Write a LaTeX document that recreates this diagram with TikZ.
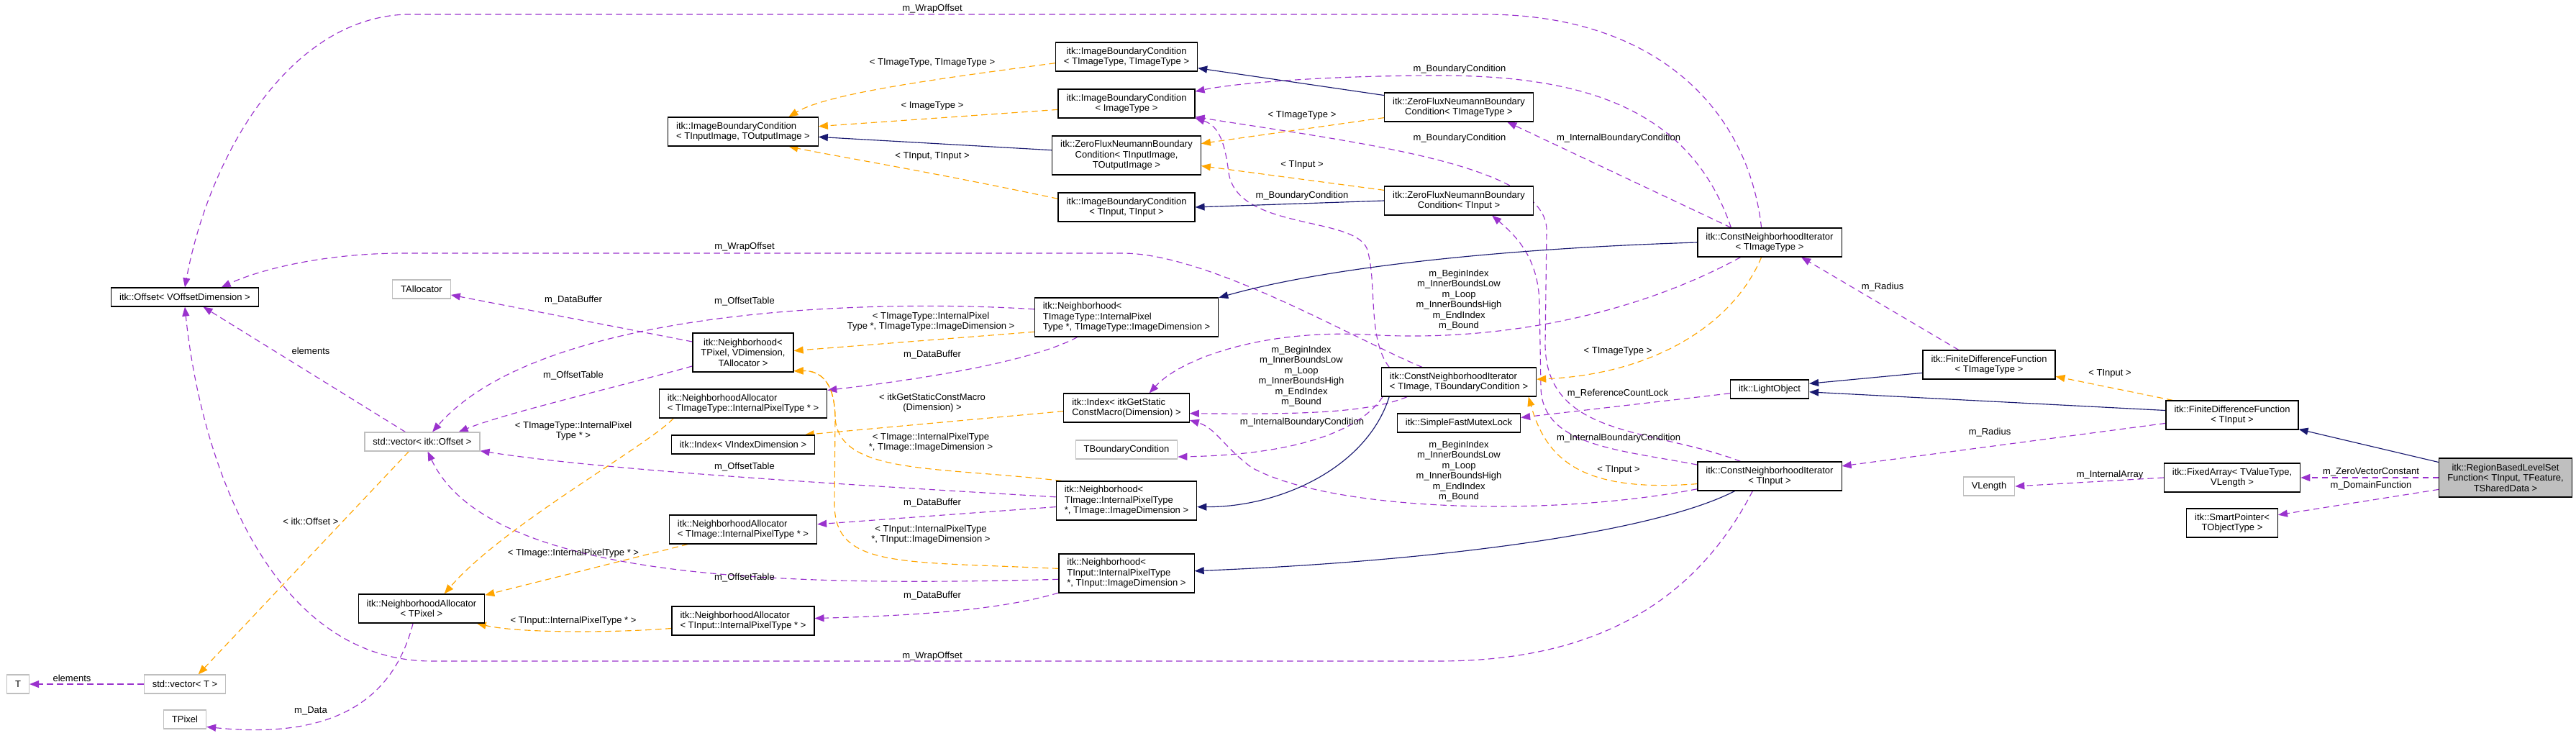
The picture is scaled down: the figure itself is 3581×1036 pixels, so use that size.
\documentclass[tikz,border=0pt]{standalone}
\usepackage{fontspec}
\setmainfont{Liberation Sans}
\usetikzlibrary{arrows.meta}
\definecolor{usecol}{HTML}{9A32CD}
\definecolor{tmplcol}{HTML}{FFA500}
\definecolor{inhcol}{HTML}{191970}
\definecolor{undoc}{HTML}{BFBFBF}
\pgfdeclarelayer{bg}
\pgfsetlayers{bg,main}
\newcommand{\idxlist}{m\_BeginIndex\\m\_InnerBoundsLow\\m\_Loop\\m\_InnerBoundsHigh\\m\_EndIndex\\m\_Bound}
\begin{document}
\begin{tikzpicture}[
x=0.2mm,y=-0.2mm,
every node/.style={font=\fontsize{7.4}{8.2}\selectfont,inner sep=0pt},
cls/.style={draw=black,fill=white,line width=0.65pt,inner xsep=2.3mm,inner ysep=0.8mm,minimum height=5.2mm,align=center},
ext/.style={cls,draw=undoc},
two/.style={minimum height=8mm},
three/.style={minimum height=10.8mm},
lbl/.style={align=center},
use/.style={draw=usecol,line width=0.65pt,dash pattern=on 1.7mm off 1.1mm,-{Triangle[length=2.6mm,width=2mm]}},
tmpl/.style={use,draw=tmplcol},
inh/.style={draw=inhcol,line width=0.65pt,-{Triangle[length=2.6mm,width=2mm]}}
]
\useasboundingbox (0,0) rectangle (3581,1036);

% classes, left column
\node[cls] (offset) at (257,413) {itk::Offset< VOffsetDimension >};
\node[ext] (talloc) at (586,402) {TAllocator};
\node[ext] (vecoff) at (587,614) {std::vector< itk::Offset >};
\node[cls,two] (nalpix) at (586,846) {itk::NeighborhoodAllocator\\< TPixel >};
\node[ext] (vect) at (257,951) {std::vector< T >};
\node[ext] (tt) at (25,951) {T};
\node[ext] (tpixel) at (257,1000) {TPixel};

\node[cls,two,align=left] (ibcio) at (1033,183) {itk::ImageBoundaryCondition\\< TInputImage, TOutputImage >};
\node[cls,three] (nbpix) at (1033,490) {itk::Neighborhood<\\TPixel, VDimension,\\TAllocator >};
\node[cls,two,align=left] (nalimgtype) at (1033,561) {itk::NeighborhoodAllocator\\< TImageType::InternalPixelType * >};
\node[cls] (idxv) at (1033,618) {itk::Index< VIndexDimension >};
\node[cls,two,align=left] (nalimg) at (1033,736) {itk::NeighborhoodAllocator\\< TImage::InternalPixelType * >};
\node[cls,two,align=left] (nalin) at (1033,863) {itk::NeighborhoodAllocator\\< TInput::InternalPixelType * >};

% middle column
\node[cls,two] (ibctt) at (1566,79) {itk::ImageBoundaryCondition\\< TImageType, TImageType >};
\node[cls,two] (ibcimg) at (1566,144) {itk::ImageBoundaryCondition\\< ImageType >};
\node[cls,three] (zfio) at (1566,216) {itk::ZeroFluxNeumannBoundary\\Condition< TInputImage,\\TOutputImage >};
\node[cls,two] (ibcin) at (1566,288) {itk::ImageBoundaryCondition\\< TInput, TInput >};
\node[cls,three,align=left] (nbimgtype) at (1566,441) {itk::Neighborhood<\\TImageType::InternalPixel\\Type *, TImageType::ImageDimension >};
\node[cls,two,align=left] (idxmac) at (1566,567) {itk::Index< itkGetStatic\\ConstMacro(Dimension) >};
\node[ext] (tbc) at (1566,625) {TBoundaryCondition};
\node[cls,three,align=left] (nbimg) at (1566,696) {itk::Neighborhood<\\TImage::InternalPixelType\\*, TImage::ImageDimension >};
\node[cls,three,align=left] (nbin) at (1566,797) {itk::Neighborhood<\\TInput::InternalPixelType\\*, TInput::ImageDimension >};

\node[cls,two] (zftt) at (2028,149) {itk::ZeroFluxNeumannBoundary\\Condition< TImageType >};
\node[cls,two] (zfin) at (2028,279) {itk::ZeroFluxNeumannBoundary\\Condition< TInput >};
\node[cls,two,align=left] (cnibc) at (2028,531) {itk::ConstNeighborhoodIterator\\< TImage, TBoundaryCondition >};
\node[cls] (mutex) at (2028,588) {itk::SimpleFastMutexLock};

% right part
\node[cls,two] (cnitt) at (2460,337) {itk::ConstNeighborhoodIterator\\< TImageType >};
\node[cls] (lightobj) at (2460,541) {itk::LightObject};
\node[cls,two] (cnin) at (2460,662) {itk::ConstNeighborhoodIterator\\< TInput >};
\node[cls,two] (fdftt) at (2765,507) {itk::FiniteDifferenceFunction\\< TImageType >};
\node[ext] (vlength) at (2765,676) {VLength};
\node[cls,two] (fdfin) at (3103,577) {itk::FiniteDifferenceFunction\\< TInput >};
\node[cls,two] (fixarr) at (3103,664) {itk::FixedArray< TValueType,\\VLength >};
\node[cls,two] (smartp) at (3103,727) {itk::SmartPointer<\\TObjectType >};
\node[cls,three,fill=undoc] (rblsf) at (3483,664) {itk::RegionBasedLevelSet\\Function< TInput, TFeature,\\TSharedData >};

\begin{pgfonlayer}{bg}
% usage
\draw[use] (cnitt.119) .. controls (2430,150) and (2300,20) .. (2064,20) -- (565,20) .. controls (400,25) and (290,220) .. (offset.north);
\draw[use] (cnibc.158) .. controls (1880,470) and (1680,352) .. (1560,352) -- (560,352) .. controls (450,352) and (360,375) .. (offset.15);
\draw[use] (cnin.-139) .. controls (2350,850) and (2200,919) .. (2000,919) -- (600,919) .. controls (380,919) and (280,650) .. (offset.south);
\draw[use] (vecoff.150) -- (offset.-28);
\draw[use] (nbpix.168) -- (talloc.-11);
\draw[use] (nbimgtype.175) .. controls (1200,415) and (750,430) .. (vecoff.44);
\draw[use] (nbpix.195) .. controls (850,540) and (700,575) .. (vecoff.15);
\draw[use] (nbimgtype.202) .. controls (1440,500) and (1300,525) .. (nalimgtype.9);
\draw[use] (nbimg.177) .. controls (1200,675) and (850,655) .. (vecoff.-9);
\draw[use] (nbimg.185) -- (nalimg.4);
\draw[use] (nbin.185) .. controls (1100,815) and (680,810) .. (vecoff.-61);
\draw[use] (nbin.196) .. controls (1400,845) and (1300,855) .. (nalin.2);
\draw[use] (vect) -- (tt);
\draw[use] (nalpix.-120) .. controls (550,960) and (480,1030) .. (tpixel.-19);
\draw[use] (cnitt.159) .. controls (2350,150) and (2200,105) .. (2000,105) .. controls (1850,105) and (1720,115) .. (ibcimg.10);
\draw[use] (cnitt.159) -- (zftt.-17);
\draw[use] (cnin.153) .. controls (2300,595) and (2150,610) .. (2148,480) -- (2150,320) .. controls (2150,230) and (1900,200) .. (ibcimg.-11);
\draw[use] (cnin.171) .. controls (2250,625) and (2145,620) .. (2142,540) -- (2140,420) .. controls (2138,360) and (2110,330) .. (zfin.-24);
\draw[use] (cnibc.168) .. controls (1900,470) and (1915,390) .. (1900,345) .. controls (1880,300) and (1720,320) .. (1708,240) .. controls (1703,200) and (1695,175) .. (ibcimg.-12);
\draw[use] (cnibc.191) .. controls (1890,600) and (1800,632) .. (tbc.-8);
\draw[use] (cnibc.196) .. controls (1900,575) and (1800,576) .. (idxmac.-5);
\draw[use] (cnitt.207) .. controls (2250,450) and (2050,475) .. (1900,465) .. controls (1750,458) and (1640,500) .. (idxmac.33);
\draw[use] (cnin.190) .. controls (2150,720) and (1850,710) .. (1740,650) .. controls (1700,620) and (1690,595) .. (idxmac.-11);
\draw[use] (lightobj.186) -- (mutex.5);
\draw[use] (fdftt.154) -- (cnitt.-25);
\draw[use] (fdfin.187) -- (cnin.8);
\draw[use] (rblsf.west) -- (fixarr.east);
\draw[use] (rblsf.190) -- (smartp.10);
\draw[use] (fixarr.west) -- (vlength.east);
% template instances
\draw[tmpl] (nbimgtype.189) -- (nbpix.2);
\draw[tmpl] (nbimg.163) .. controls (1300,648) and (1165,660) .. (1161,580) .. controls (1160,530) and (1140,515) .. (nbpix.-20);
\draw[tmpl] (nbin.176) .. controls (1250,780) and (1160,790) .. (1160,700) -- (1161,580) .. controls (1160,530) and (1140,515) .. (nbpix.-20);
\draw[tmpl] (nalimgtype.192) .. controls (900,620) and (700,730) .. (nalpix.33);
\draw[tmpl] (nalimg.195) -- (nalpix.12);
\draw[tmpl] (nalin.186) .. controls (850,880) and (720,880) .. (nalpix.-15);
\draw[tmpl] (idxmac.183) -- (idxv.9);
\draw[tmpl] (vecoff.216) -- (vect.36);
\draw[tmpl] (ibctt.185) .. controls (1300,110) and (1150,130) .. (ibcio.18);
\draw[tmpl] (ibcimg.185) -- (ibcio.4);
\draw[tmpl] (ibcin.173) .. controls (1300,240) and (1150,215) .. (ibcio.-18);
\draw[tmpl] (cnitt.-119) .. controls (2410,450) and (2300,520) .. (cnibc.2);
\draw[tmpl] (cnin.186) .. controls (2200,685) and (2150,640) .. (cnibc.-12);
\draw[tmpl] (fdfin.166) -- (fdftt.-10);
\draw[tmpl] (zftt.188) -- (zfio.9);
\draw[tmpl] (zfin.172) -- (zfio.-8);
% inheritance
\draw[inh] (zfio.176) -- (ibcio.-4);
\draw[inh] (zftt.171) -- (ibctt.-9);
\draw[inh] (cnibc.192) .. controls (1900,650) and (1780,705) .. (nbimg.-5);
\draw[inh] (cnin.203) .. controls (2300,740) and (2000,780) .. (nbin.2);
\draw[inh] (cnitt.west) .. controls (2100,345) and (1850,370) .. (nbimgtype.12);
\draw[inh] (fdftt.187) -- (lightobj.8);
\draw[inh] (fdfin.176) -- (lightobj.-4);
\draw[inh] (rblsf.167) -- (fdfin.-12);
\draw[inh] (zfin.west) -- (ibcin.east);
\end{pgfonlayer}

% edge labels
\node[lbl] (lwrapA) at (1296,12) {m\_WrapOffset};
\node[lbl] (lwrapB) at (1035,343) {m\_WrapOffset};
\node[lbl] (lwrapC) at (1296,912) {m\_WrapOffset};
\node[lbl] (lelemA) at (432,488) {elements};
\node[lbl] (lbufA) at (797,417) {m\_DataBuffer};
\node[lbl] (ltt) at (1296,87) {< TImageType, TImageType >};
\node[lbl] (limg) at (1296,147) {< ImageType >};
\node[lbl] (linin) at (1296,217) {< TInput, TInput >};
\node[lbl] (ltabA) at (1035,419) {m\_OffsetTable};
\node[lbl] (lnbtt) at (1294,447) {< TImageType::InternalPixel\\Type *, TImageType::ImageDimension >};
\node[lbl] (lbufB) at (1296,493) {m\_DataBuffer};
\node[lbl] (ltabB) at (797,522) {m\_OffsetTable};
\node[lbl] (lnaltt) at (797,599) {< TImageType::InternalPixel\\Type * >};
\node[lbl] (lvecoff) at (432,725) {< itk::Offset >};
\node[lbl] (lnalimg) at (797,769) {< TImage::InternalPixelType * >};
\node[lbl] (lnalin) at (797,863) {< TInput::InternalPixelType * >};
\node[lbl] (lelemB) at (100,943) {elements};
\node[lbl] (ldata) at (432,988) {m\_Data};
\node[lbl] (lidx) at (1296,560) {< itkGetStaticConstMacro\\(Dimension) >};
\node[lbl] (lnbimg) at (1294,615) {< TImage::InternalPixelType\\*, TImage::ImageDimension >};
\node[lbl] (ltabC) at (1035,649) {m\_OffsetTable};
\node[lbl] (lbufC) at (1296,699) {m\_DataBuffer};
\node[lbl] (lnbin) at (1294,743) {< TInput::InternalPixelType\\*, TInput::ImageDimension >};
\node[lbl] (ltabD) at (1035,803) {m\_OffsetTable};
\node[lbl] (lbufD) at (1296,828) {m\_DataBuffer};
\node[lbl] (lbcA) at (2029,96) {m\_BoundaryCondition};
\node[lbl] (lbcB) at (2029,192) {m\_BoundaryCondition};
\node[lbl] (libcA) at (2250,192) {m\_InternalBoundaryCondition};
\node[lbl] (lzftt) at (1810,160) {< TImageType >};
\node[lbl] (lzfin) at (1810,229) {< TInput >};
\node[lbl] (lbcC) at (1810,272) {m\_BoundaryCondition};
\node[lbl] (lidxA) at (2028,417) {\idxlist};
\node[lbl] (lradA) at (2617,399) {m\_Radius};
\node[lbl] (lcnitt) at (2249,488) {< TImageType >};
\node[lbl] (lidxB) at (1809,523) {\idxlist};
\node[lbl] (libcB) at (1810,587) {m\_InternalBoundaryCondition};
\node[lbl] (lrefc) at (2249,547) {m\_ReferenceCountLock};
\node[lbl] (lidxC) at (2028,655) {\idxlist};
\node[lbl] (libcC) at (2250,609) {m\_InternalBoundaryCondition};
\node[lbl] (lcnin) at (2250,653) {< TInput >};
\node[lbl] (lfdf) at (2933,519) {< TInput >};
\node[lbl] (lradB) at (2766,601) {m\_Radius};
\node[lbl] (larr) at (2933,660) {m\_InternalArray};
\node[lbl] (lzero) at (3296,656) {m\_ZeroVectorConstant};
\node[lbl] (ldom) at (3296,675) {m\_DomainFunction};
\end{tikzpicture}
\end{document}
